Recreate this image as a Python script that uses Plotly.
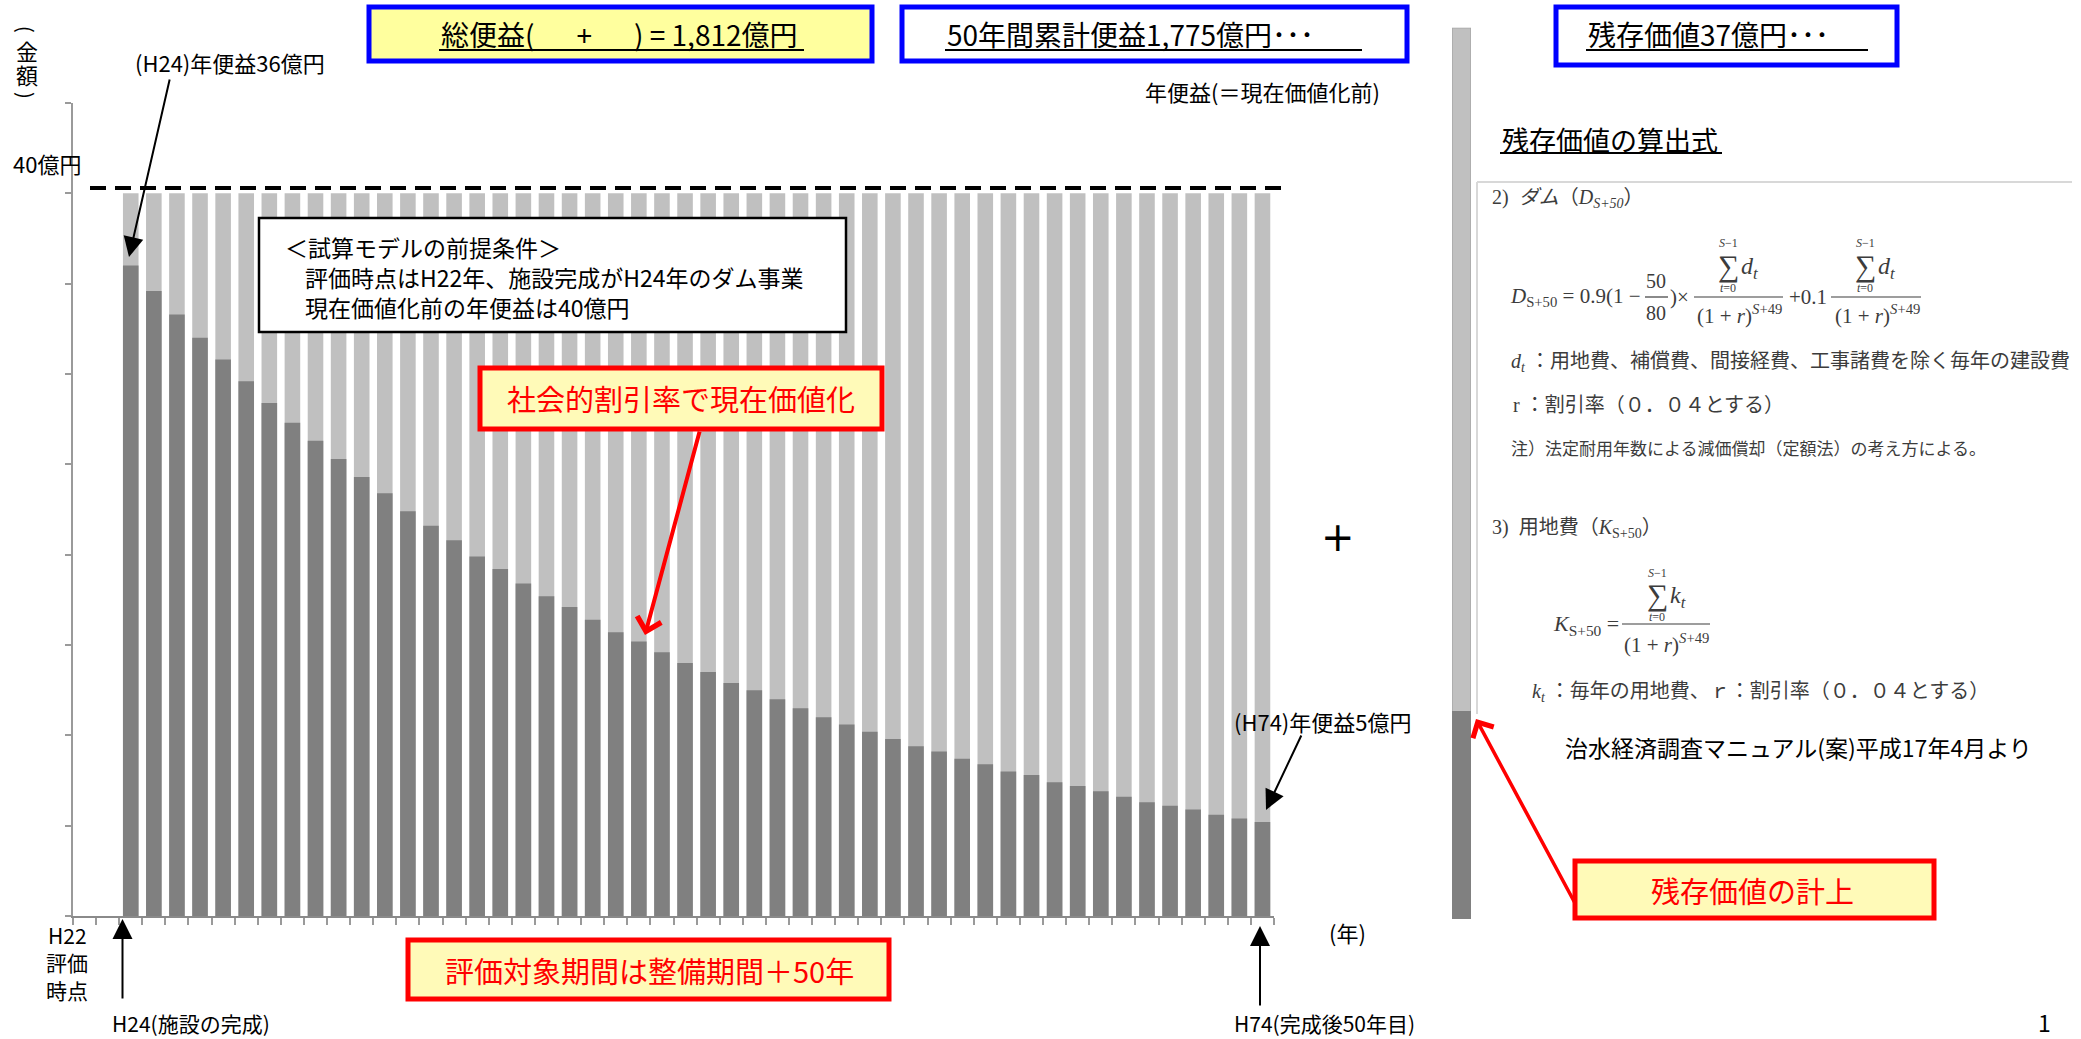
import plotly.graph_objects as go

W, H = 2081, 1039

# ---------------- data ----------------
all_years = ["H22", "H23"] + [f"H{n}" for n in range(24, 74)]   # 52 year slots on the axis
bar_years = [f"H{n}" for n in range(24, 74)]                    # 50 benefit years
annual_benefit = [40] * 50                                       # 年便益(現在価値化前) 億円
present_value = [36.0, 34.6, 33.3, 32.0, 30.8, 29.6, 28.4, 27.3, 26.3, 25.3,
                 24.3, 23.4, 22.4, 21.6, 20.8, 19.9, 19.2, 18.4, 17.7, 17.1,
                 16.4, 15.7, 15.2, 14.6, 14.0, 13.5, 12.9, 12.5, 12.0, 11.5,
                 11.0, 10.6, 10.2, 9.8, 9.4, 9.1, 8.7, 8.4, 8.0, 7.8,
                 7.4, 7.2, 6.9, 6.6, 6.3, 6.1, 5.9, 5.6, 5.4, 5.2]
residual_label = ["残存価値"]
residual_total = [49.3]
residual_present = [11.5]
y_max = 45
y_step = 5

JP = "Liberation Sans Narrow, Noto Sans CJK JP, sans-serif"
FJP = "Noto Sans CJK JP, sans-serif"
MATH = "Liberation Serif, Noto Sans CJK JP, serif"
FCOL = "#3c3c3c"


def X(x):
    return x / W


def Y(y):
    return 1 - y / H


fig = go.Figure()
fig.add_trace(go.Bar(x=bar_years, y=annual_benefit, marker=dict(color="#c0c0c0", line=dict(width=0)),
                     xaxis="x", yaxis="y", hoverinfo="skip"))
fig.add_trace(go.Bar(x=bar_years, y=present_value, marker=dict(color="#808080", line=dict(width=0)),
                     xaxis="x", yaxis="y", hoverinfo="skip"))
fig.add_trace(go.Bar(x=residual_label, y=residual_total, width=1,
                     marker=dict(color="#c0c0c0", line=dict(color="#a8a8a8", width=1.5)),
                     xaxis="x2", yaxis="y2", hoverinfo="skip"))
fig.add_trace(go.Bar(x=residual_label, y=residual_present, width=1,
                     marker=dict(color="#808080", line=dict(width=0)),
                     xaxis="x2", yaxis="y2", hoverinfo="skip"))

shapes = []
ann = []


def rect(x0, y0, x1, y1, color, width, fill):
    shapes.append(dict(type="rect", xref="paper", yref="paper", x0=X(x0), x1=X(x1), y0=Y(y1), y1=Y(y0),
                       line=dict(color=color, width=width), fillcolor=fill, layer="above"))


def line(x0, y0, x1, y1, color="black", width=2, dash=None):
    d = dict(color=color, width=width)
    if dash:
        d["dash"] = dash
    shapes.append(dict(type="line", xref="paper", yref="paper", x0=X(x0), x1=X(x1), y0=Y(y0), y1=Y(y1),
                       line=d, layer="above"))


def txt(x, y, s, size, color="black", xanchor="left", family=JP, angle=0):
    ann.append(dict(x=X(x), y=Y(y), xref="paper", yref="paper", text=s, showarrow=False,
                    xanchor=xanchor, yanchor="middle", textangle=angle,
                    font=dict(size=size, color=color, family=family)))


def arrow(hx, hy, tx, ty, color="black", width=2, head=2, size=1.0):
    ann.append(dict(x=X(hx), y=Y(hy), xref="paper", yref="paper", text="", showarrow=True,
                    ax=tx - hx, ay=ty - hy, arrowcolor=color, arrowwidth=width,
                    arrowhead=head, arrowsize=size, standoff=0))


# dashed 40億円 line
line(90, 188, 1283, 188, "black", 4, "16px,9px")

# title boxes
rect(369, 7, 872, 61, "#0000ff", 5, "#ffff9e")
txt(439, 34, "総便益(\u3000\u2002+\u3000\u2002) = 1,812億円", 28)
line(439, 50, 804, 50, "black", 2)
rect(902, 7, 1407, 61, "#0000ff", 5, "white")
txt(945, 34, "50年間累計便益1,775億円･･･", 28)
line(945, 50, 1362, 50, "black", 2)
rect(1556, 7, 1897, 65, "#0000ff", 5, "white")
txt(1586, 34, "残存価値37億円･･･", 28)
line(1586, 50, 1868, 50, "black", 2)

txt(1382, 91, "年便益(＝現在価値化前)", 22, xanchor="right")
txt(1500, 139, "残存価値の算出式", 27)
line(1500, 153, 1722, 153, "black", 2)

# y axis title (vertical)
txt(27, 29, "(", 20, angle=90, xanchor="center")
txt(27, 50, "金", 22, xanchor="center")
txt(27, 74, "額", 22, xanchor="center")
txt(27, 95, ")", 20, angle=90, xanchor="center")
txt(11, 163, "40億円", 22)

# annotations on the chart
txt(133, 62, "(H24)年便益36億円", 22)
arrow(129, 257, 170, 78, size=2)
rect(259, 218, 846, 332, "black", 2.5, "white")
txt(283, 247, "＜試算モデルの前提条件＞", 23)
txt(303, 277, "評価時点はH22年、施設完成がH24年のダム事業", 23)
txt(303, 307, "現在価値化前の年便益は40億円", 23)

rect(480, 368, 882, 429, "#ff0000", 5, "#fffab8")
txt(681, 398, "社会的割引率で現在価値化", 29, "#ff0000", "center")
arrow(645, 635, 700, 430, "#ff0000", 4, 4, 1.2)

txt(1232, 721, "(H74)年便益5億円", 22)
arrow(1266, 810, 1302, 734, size=2)

txt(1338, 537, "+", 40, xanchor="center", family="DejaVu Sans")
txt(1347, 932, "(年)", 22, xanchor="center")

# bottom labels
txt(67, 935, "H22", 21, xanchor="center")
txt(67, 962, "評価", 21, xanchor="center")
txt(67, 990, "時点", 21, xanchor="center")
arrow(122.5, 919, 122.5, 1000, size=2)
txt(110, 1023, "H24(施設の完成)", 21)
arrow(1260, 926, 1260, 1007, size=2)
txt(1232, 1023, "H74(完成後50年目)", 21)
rect(408, 940, 889, 999, "#ff0000", 5, "#fffab8")
txt(649, 970, "評価対象期間は整備期間＋50年", 29, "#ff0000", "center")

# residual value box
rect(1575, 861, 1934, 918, "#ff0000", 5, "#fffab8")
txt(1752, 890, "残存価値の計上", 29, "#ff0000", "center")
arrow(1476, 719, 1576, 905, "#ff0000", 3.5, 4, 1.3)
txt(1563, 747, "治水経済調査マニュアル(案)平成17年4月より", 23)
txt(2044, 1022, "1", 23, xanchor="center")

# ---------------- formula panel ----------------
line(1477, 182, 2072, 182, "#d8d8d8", 2)
line(1477, 182, 1477, 714, "#d8d8d8", 2)

txt(1490, 199, "2)  <i>ダム</i>（<i>D<sub>S+50</sub></i>）", 20, FCOL, family=MATH)
txt(1508, 297, "<i>D</i><sub>S+50</sub> = 0.9(1 −", 21, FCOL, family=MATH)
txt(1656, 281, "50", 20, FCOL, "center", MATH)
txt(1656, 313, "80", 20, FCOL, "center", MATH)
line(1645, 297, 1668, 297, FCOL, 1.2)
txt(1668, 297, ")×", 21, FCOL, family=MATH)


def frac(cx_sum, x0, x1, cx_den, sym):
    txt(cx_sum, 243, "<i>S</i>−1", 12, FCOL, "center", MATH)
    txt(cx_sum, 266, "∑", 30, FCOL, "center", MATH)
    txt(cx_sum + 11, 268, "<i>" + sym + "<sub>t</sub></i>", 24, FCOL, family=MATH)
    txt(cx_sum, 288, "<i>t</i>=0", 12, FCOL, "center", MATH)
    line(x0, 297, x1, 297, FCOL, 1.2)
    txt(cx_den, 314, "(1 + <i>r</i>)<sup><i>S</i>+49</sup>", 21, FCOL, "center", MATH)


frac(1728, 1694, 1783, 1739, "d")
txt(1787, 297, "+0.1", 21, FCOL, family=MATH)
frac(1865, 1831, 1921, 1877, "d")

txt(1509, 363, "<i>d<sub>t</sub></i> ：用地費、補償費、間接経費、工事諸費を除く毎年の建設費", 20, FCOL, family=MATH)
txt(1511, 405, "r ：割引率（０．０４とする）", 20, FCOL, family=MATH)
txt(1509, 447, "注）法定耐用年数による減価償却（定額法）の考え方による。", 17, FCOL, family=FJP)

txt(1490, 528, "3)  用地費（<i>K</i><sub>S+50</sub>）", 20, FCOL, family=MATH)
txt(1551, 625, "<i>K</i><sub>S+50</sub> =", 22, FCOL, family=MATH)
txt(1657, 573, "<i>S</i>−1", 12, FCOL, "center", MATH)
txt(1657, 595, "∑", 30, FCOL, "center", MATH)
txt(1668, 597, "<i>k<sub>t</sub></i>", 24, FCOL, family=MATH)
txt(1657, 617, "<i>t</i>=0", 12, FCOL, "center", MATH)
line(1622, 624, 1710, 624, FCOL, 1.2)
txt(1666, 643, "(1 + <i>r</i>)<sup><i>S</i>+49</sup>", 21, FCOL, "center", MATH)
txt(1530, 692, "<i>k<sub>t</sub></i> ：毎年の用地費、ｒ：割引率（０．０４とする）", 20, FCOL, family=MATH)

fig.update_layout(
    width=W, height=H, margin=dict(l=0, r=0, t=0, b=0),
    paper_bgcolor="white", plot_bgcolor="rgba(0,0,0,0)",
    showlegend=False, barmode="overlay", bargap=0.325,
    xaxis=dict(domain=[X(73), X(1274)], anchor="y", type="category",
               categoryorder="array", categoryarray=all_years, range=[-0.5, len(all_years) - 0.5],
               tickson="boundaries", ticks="outside", ticklen=7, tickwidth=1.5, tickcolor="#9a9a9a",
               showticklabels=False, showline=True, linecolor="#8a8a8a", linewidth=2,
               showgrid=False, zeroline=False, fixedrange=True),
    yaxis=dict(domain=[Y(916), Y(103)], anchor="x", range=[0, y_max], dtick=y_step, tick0=0,
               ticks="outside", ticklen=6, tickwidth=1.5, tickcolor="#9a9a9a",
               showticklabels=False, showline=True, linecolor="#9a9a9a", linewidth=1.5,
               showgrid=False, zeroline=False, fixedrange=True),
    xaxis2=dict(domain=[X(1452), X(1471)], anchor="y2", type="category", range=[-0.5, 0.5],
                visible=False, fixedrange=True),
    yaxis2=dict(domain=[Y(919), Y(27.7)], anchor="x2", range=[0, residual_total[0]],
                visible=False, fixedrange=True),
    shapes=shapes, annotations=ann,
)

fig.write_html("out.html")
